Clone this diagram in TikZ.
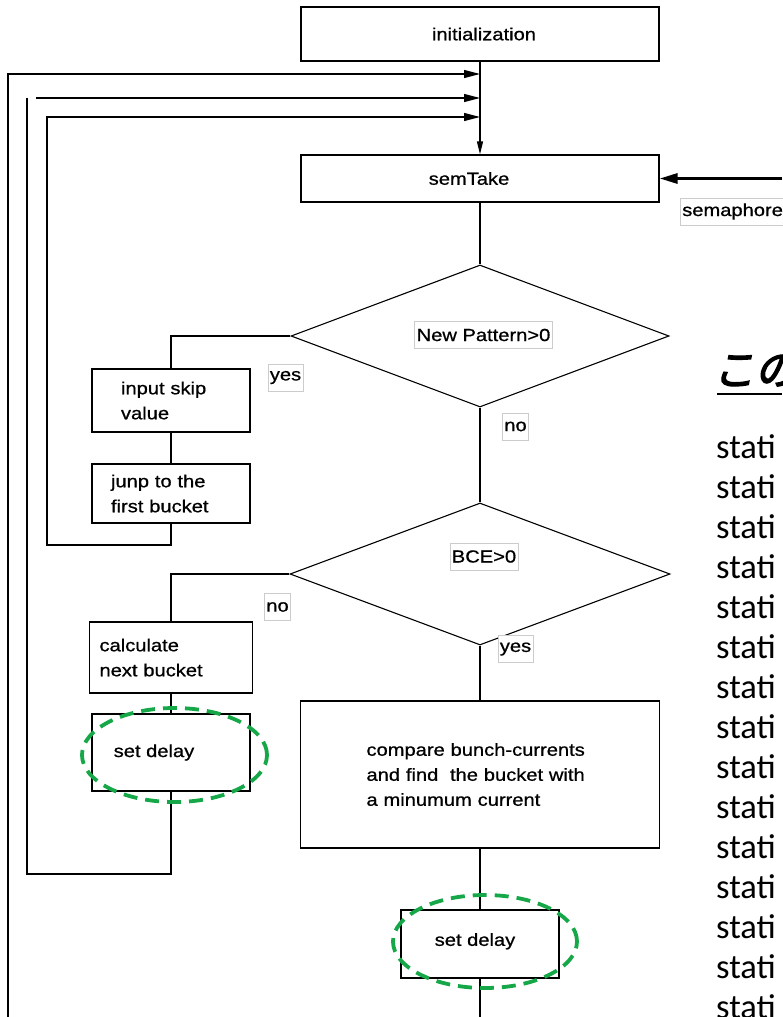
\documentclass[tikz,border=0pt]{standalone}
\usepackage{fontspec}
\setmainfont{Liberation Sans}[FakeStretch=1.15,FakeBold=0.8]
\newfontfamily\jpfont[FakeSlant=0.2,FakeBold=3]{Noto Sans CJK JP}
\newfontfamily\codefont{Carlito}
\usetikzlibrary{shapes.geometric,arrows.meta}
\definecolor{ringgreen}{RGB}{22,168,72}
\begin{document}
\begin{tikzpicture}[x=1pt,y=-1pt,
  every node/.style={font=\fontsize{17.5}{25}\selectfont},
  box/.style={draw, line width=1.2pt, inner ysep=0pt},
  dia/.style={draw, diamond, line width=1.1pt, inner sep=0pt},
  lbl/.style={draw=gray!40, line width=0.5pt, fill=white, inner sep=2pt, minimum height=27pt},
  ring/.style={ellipse, draw=ringgreen, line width=3.8pt, dash pattern=on 14pt off 8pt, inner sep=0pt},
  conn/.style={line width=1.2pt},
  arr/.style={-{Triangle[length=16pt,width=8pt]}},
  code/.style={anchor=base west, inner sep=0pt, font=\codefont\fontsize{34.5}{34.5}\selectfont}]
\path[use as bounding box, fill=white] (0,0) rectangle (782,1017);

% boxes
\node[box, minimum width=358pt, minimum height=54pt] (init) at (480,34) {\hspace*{8pt}initialization};
\node[box, minimum width=358pt, minimum height=47pt] (sem) at (480,178.5) {semTake\hspace*{22pt}};
\node[dia, minimum width=378pt, minimum height=142pt] (d1) at (480,336) {};
\node[lbl] (t1) at (483.5,335) {New Pattern>0};
\node[lbl] (yes1) at (285.5,377.5) {yes};
\node[lbl] (no1) at (515.5,426.5) {no};
\node[box, text width=100pt, inner xsep=29pt, minimum height=63pt, align=left] (input) at (171,400.5) {input skip\\value};
\node[box, text width=120pt, inner xsep=19pt, minimum height=59pt, align=left] (jump) at (171,493.5) {junp to the\\first bucket};
\node[dia, minimum width=380pt, minimum height=142pt] (d2) at (480,574) {};
\node[lbl] (t2) at (484,556.5) {BCE>0};
\node[lbl] (no2) at (277.5,607) {no};
\node[lbl] (yes2) at (515.5,649) {yes};
\node[box, text width=143pt, inner xsep=10pt, minimum height=71pt, align=left] (calc) at (171,657.5) {calculate\\next bucket};
\node[box, minimum width=158pt, minimum height=77pt] (sd1) at (171,752.5) {set delay\hspace*{34pt}};
\node[box, text width=227pt, inner xsep=66pt, minimum height=147pt, align=left] (comp) at (480,774.5) {compare bunch-currents\\and find\ \ the bucket with\\a minumum current};
\node[box, minimum width=158pt, minimum height=68pt] (sd2) at (480,944) {\raisebox{9pt}{set delay}\hspace*{10pt}};
\node[lbl, anchor=west] (sema) at (680,211.5) {semaphore};

% coordinates
\coordinate (m1) at (480,74);
\coordinate (m2) at (480,98);
\coordinate (m3) at (480,117);
\coordinate (o1) at (8,1017);
\coordinate (g1) at (27,874);
\coordinate (g2) at (27,98);
\coordinate (g3) at (36,98);
\coordinate (h1) at (47,545);
\coordinate (h2) at (47,117);
\coordinate (bot) at (480,1017);
\coordinate (semsrc) at (782,178.5);

% connectors
\draw[conn, -{Triangle[length=13pt,width=6pt]}] (init.south) -- (sem.north);
\draw[conn, arr] (o1) |- (m1);
\draw[conn, arr] (g3) -- (m2);
\draw[conn] (sd1.south) |- (g1) -- (g2);
\draw[conn, arr] (jump.south) |- (h1) -- (h2) -- (m3);
\draw[conn] (sem.south) -- (d1.north);
\draw[conn] (d1.west) -| (input.north);
\draw[conn] (input.south) -- (jump.north);
\draw[conn] (d1.south) -- (d2.north);
\draw[conn] (d2.west) -| (calc.north);
\draw[conn] (calc.south) -- (sd1.north);
\draw[conn] (d2.south) -- (comp.north);
\draw[conn] (comp.south) -- (sd2.north);
\draw[conn] (sd2.south) -- (bot);
\draw[line width=3pt, -{Triangle[length=18pt,width=10pt]}] (semsrc) -- (sem.east);

% green rings
\node[ring, minimum width=185pt, minimum height=94pt] (r1) at (174.5,755) {};
\node[ring, minimum width=184pt, minimum height=93pt] (r2) at (485,941.5) {};

% right-hand text
\node[anchor=base west, inner sep=0pt, font=\jpfont\fontsize{42}{42}\selectfont] (jp) at (713,385) {この};
\draw[line width=2.5pt] (717,394) -- (782,394);
\foreach \i in {0,...,14} {
  \node[code] (s\i) at (716,{458+40*\i}) {stati};
}
\end{tikzpicture}
\end{document}
